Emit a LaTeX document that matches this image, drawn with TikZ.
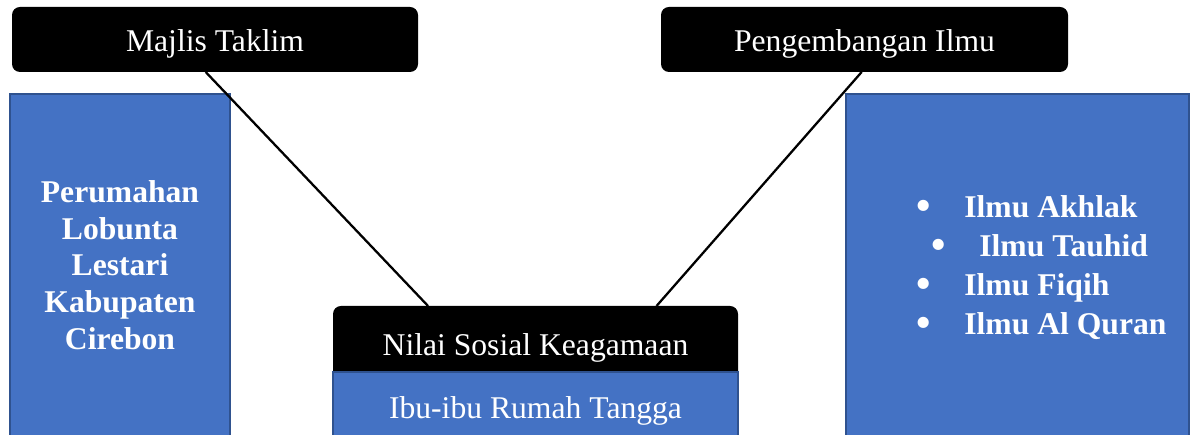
\documentclass[tikz,border=0pt]{standalone}
\usepackage{fontspec}
\setmainfont{Liberation Serif}
\usetikzlibrary{positioning}
\definecolor{boxblue}{HTML}{4472C4}
\definecolor{boxedge}{HTML}{2F528F}
\newcommand{\listdot}{\raisebox{-0.06em}{\scalebox{1.3}{\textbullet}}}

\begin{document}
\begin{tikzpicture}[
		head/.style={rectangle, rounded corners=0.16cm, fill=black, text=white, outer sep=0pt, inner sep=0pt,
			text height=0.62cm, text depth=0.13cm, font=\fontsize{18}{21}\selectfont},
		bluebox/.style={rectangle, fill=boxblue, draw=boxedge, line width=0.85pt, text=white, outer sep=0pt, inner sep=0pt},
		listtext/.style={align=left, text=white, inner sep=0pt, font=\bfseries\fontsize{18}{22.2}\selectfont},
		link/.style={draw=black, line width=1.3pt}
		]
		\clip (0, 0) rectangle (23.88, 8.7);
		% top labels
		\node (majlis) at (4.30, 7.91) [head, minimum width=8.12cm, minimum height=1.30cm] {Majlis Taklim};
		\node (ilmu head) at (17.29, 7.91) [head, minimum width=8.14cm, minimum height=1.30cm] {Pengembangan Ilmu};
		% side boxes
		\node (lokasi) at (2.40, 3.40) [bluebox, minimum width=4.40cm, minimum height=6.84cm, align=center,
			font=\bfseries\fontsize{18}{20.9}\selectfont] {Perumahan\\Lobunta\\Lestari\\Kabupaten\\Cirebon};
		\node (ilmu) at (20.35, 3.40) [bluebox, minimum width=6.86cm, minimum height=6.84cm] {};
		\node (ilmu list) at (18.33, 3.35) [listtext, anchor=west] {%
			\makebox[0.95cm][l]{\listdot}Ilmu Akhlak\\
			\hspace{0.3cm}\makebox[0.95cm][l]{\listdot}Ilmu Tauhid\\
			\makebox[0.95cm][l]{\listdot}Ilmu Fiqih\\
			\makebox[0.95cm][l]{\listdot}Ilmu Al Quran};
		% bottom centre
		\node (nilai) at (10.71, 1.84) [head, minimum width=8.10cm, minimum height=1.48cm] {Nilai Sosial Keagamaan};
		\node (ibu) at (10.71, 0.49) [bluebox, minimum width=8.10cm, minimum height=1.54cm,
			font=\fontsize{18}{21}\selectfont] {Ibu-ibu Rumah Tangga};
		% connectors
		\draw [link] (majlis.254.5) -- (nilai.161.9);
		\draw [link] (ilmu head.265.6) -- (nilai.17.3);
	\end{tikzpicture}
\end{document}
